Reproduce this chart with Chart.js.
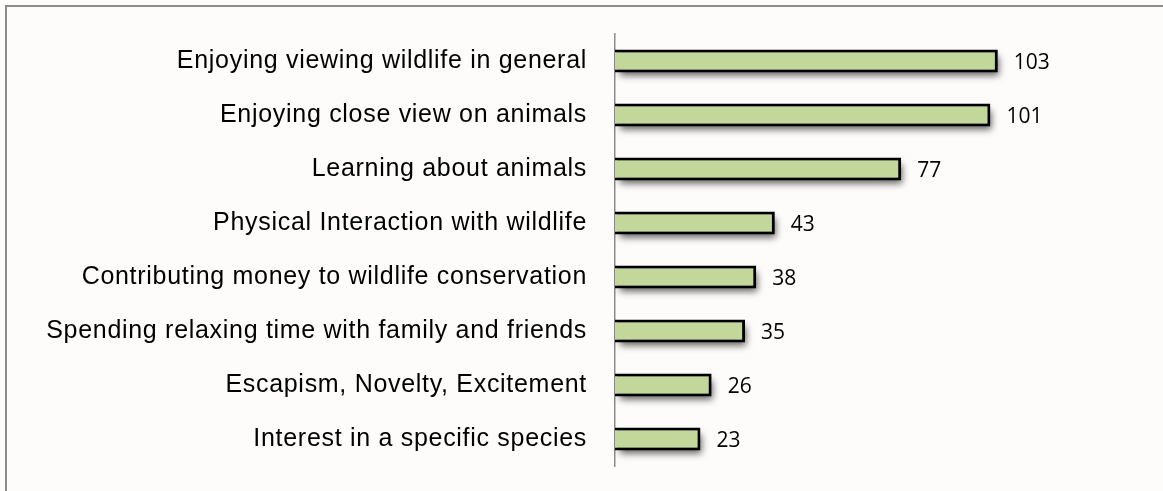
<!DOCTYPE html>
<html>
<head>
<meta charset="utf-8">
<script src="https://cdn.jsdelivr.net/npm/chart.js@4/dist/chart.umd.min.js"></script>
<style>
  html, body { margin: 0; padding: 0; background: #fdfcfa; overflow: hidden; }
  #wrap { width: 1163px; height: 491px; position: relative; }
</style>
</head>
<body>
<div id="wrap"><canvas id="c"></canvas></div>
<script>
// Motivations for visiting, number of respondents
const categories = [
  'Enjoying viewing wildlife in general',
  'Enjoying close view on animals',
  'Learning about animals',
  'Physical Interaction with wildlife',
  'Contributing money to wildlife conservation',
  'Spending relaxing time with family and friends',
  'Escapism, Novelty, Excitement',
  'Interest in a specific species'
];
const responses = [103, 101, 77, 43, 38, 35, 26, 23];

// Background and the frame lines on the top and left edges
const framePlugin = {
  id: 'frame',
  beforeDraw(chart) {
    const ctx = chart.ctx;
    ctx.save();
    ctx.fillStyle = '#fdfcfa';
    ctx.fillRect(0, 0, chart.width, chart.height);
    ctx.strokeStyle = '#8c8c8c';
    ctx.lineWidth = 2;
    ctx.beginPath();
    ctx.moveTo(6, chart.height);
    ctx.lineTo(6, 6);
    ctx.lineTo(chart.width, 6);
    ctx.stroke();
    ctx.restore();
  }
};

// Slightly looser tracking for the category labels
const trackingPlugin = {
  id: 'tracking',
  beforeDraw(chart) { chart.ctx.letterSpacing = '0.7px'; },
  beforeDatasetsDraw(chart) { chart.ctx.letterSpacing = '0px'; }
};

// Soft drop shadow under each bar, painted before the bars themselves
const shadowPlugin = {
  id: 'barShadow',
  beforeDatasetDraw(chart, args) {
    const ctx = chart.ctx;
    const meta = chart.getDatasetMeta(args.index);
    ctx.save();
    ctx.shadowColor = 'rgba(0,0,0,0.6)';
    ctx.shadowBlur = 7;
    ctx.shadowOffsetX = 3;
    ctx.shadowOffsetY = 5;
    ctx.fillStyle = '#7a7a7a';
    meta.data.forEach(bar => {
      const p = bar.getProps(['x', 'y', 'base', 'height'], true);
      const left = Math.min(p.base, p.x);
      const w = Math.abs(p.x - p.base);
      ctx.fillRect(left + 2, p.y - p.height / 2 + 2, w - 4, p.height - 4);
    });
    ctx.restore();
  }
};

// Value labels at the end of each bar
const valueLabels = {
  id: 'valueLabels',
  afterDatasetsDraw(chart) {
    const ctx = chart.ctx;
    const meta = chart.getDatasetMeta(0);
    ctx.save();
    ctx.letterSpacing = '0px';
    ctx.fillStyle = '#000';
    ctx.font = '21px "Open Sans", sans-serif';
    ctx.textAlign = 'left';
    ctx.textBaseline = 'middle';
    meta.data.forEach((bar, i) => {
      ctx.fillText(String(chart.data.datasets[0].data[i]), bar.x + 16, bar.y + 2);
    });
    ctx.restore();
  }
};

new Chart(document.getElementById('c'), {
  type: 'bar',
  data: {
    labels: categories,
    datasets: [{
      data: responses,
      backgroundColor: '#c4d79b',
      borderColor: '#000000',
      borderWidth: 3,
      borderSkipped: 'left',
      categoryPercentage: 1,
      barPercentage: 0.43
    }]
  },
  options: {
    indexAxis: 'y',
    responsive: true,
    maintainAspectRatio: false,
    animation: false,
    layout: { padding: { top: 34, bottom: 25, left: 0, right: 102 } },
    plugins: {
      legend: { display: false },
      tooltip: { enabled: false }
    },
    scales: {
      x: {
        display: false,
        min: 0,
        max: 120
      },
      y: {
        grid: { display: false, drawTicks: false },
        border: { display: true, color: '#8c8c8c', width: 1.5 },
        ticks: {
          color: '#000',
          padding: 28,
          font: { family: '"Liberation Sans", Arial, sans-serif', size: 25 }
        },
        afterFit(scale) {
          scale.width = 615;
          scale.paddingTop = 0;
          scale.paddingBottom = 0;
        }
      }
    }
  },
  plugins: [framePlugin, trackingPlugin, shadowPlugin, valueLabels]
});
</script>
</body>
</html>
